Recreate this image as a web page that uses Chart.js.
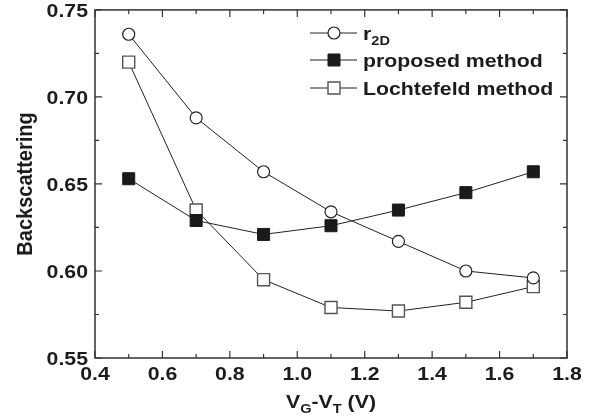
<!DOCTYPE html>
<html>
<head>
<meta charset="utf-8">
<script src="https://cdn.jsdelivr.net/npm/chart.js@4.4.1/dist/chart.umd.min.js"></script>
<style>
  html, body { margin: 0; padding: 0; background: #fff; }
  #wrap { width: 600px; height: 419px; position: relative; }
</style>
</head>
<body>
<div id="wrap"><canvas id="chart" width="600" height="419"></canvas></div>
<script>
// gate voltage overdrive VG-VT (V)
const xValues = [0.5, 0.7, 0.9, 1.1, 1.3, 1.5, 1.7];
// backscattering coefficients
const r2D = [0.736, 0.688, 0.657, 0.634, 0.617, 0.600, 0.596];
const proposed = [0.653, 0.629, 0.621, 0.626, 0.635, 0.645, 0.657];
const lochtefeld = [0.720, 0.635, 0.595, 0.579, 0.577, 0.582, 0.591];

const xTicks = [0.4, 0.6, 0.8, 1.0, 1.2, 1.4, 1.6, 1.8];
const yTicks = [0.55, 0.60, 0.65, 0.70, 0.75];

const FONT = "'Liberation Sans', Arial, Helvetica, sans-serif";
const INK = '#1c1c1c';
const STRETCH = 1.12; // the original lettering is a bit wider than Arial

function toPoints(ys) {
    return xValues.map((x, i) => ({ x: x, y: ys[i] }));
}

// text runs: [text, size, baseline shift], drawn stretched horizontally
function runWidth(ctx, parts) {
    let w = 0;
    parts.forEach(p => { ctx.font = 'bold ' + p[1] + 'px ' + FONT; w += ctx.measureText(p[0]).width; });
    return w * STRETCH;
}
function drawRuns(ctx, parts, x, y, align) {
    const w = runWidth(ctx, parts);
    let sx = x;
    if (align === 'center') sx = x - w / 2;
    if (align === 'right') sx = x - w;
    ctx.save();
    ctx.translate(sx, y);
    ctx.scale(STRETCH, 1);
    ctx.textAlign = 'left';
    ctx.textBaseline = 'alphabetic';
    let cx = 0;
    parts.forEach(p => {
        ctx.font = 'bold ' + p[1] + 'px ' + FONT;
        ctx.fillText(p[0], cx, p[2]);
        cx += ctx.measureText(p[0]).width;
    });
    ctx.restore();
}

// cadre, graduations vers l'intérieur sur les 4 côtés, textes
const framePlugin = {
    id: 'frame',
    afterDraw(chart) {
        const ctx = chart.ctx;
        const a = chart.chartArea;
        const xs = chart.scales.x, ys = chart.scales.y;
        ctx.save();
        ctx.strokeStyle = '#333';
        ctx.lineWidth = 1.5;
        ctx.strokeRect(a.left, a.top, a.right - a.left, a.bottom - a.top);

        ctx.lineWidth = 1.2;
        ctx.beginPath();
        for (let i = 0; i < xTicks.length; i++) {
            const px = xs.getPixelForValue(xTicks[i]);
            ctx.moveTo(px, a.bottom); ctx.lineTo(px, a.bottom - 7);
            ctx.moveTo(px, a.top); ctx.lineTo(px, a.top + 7);
            if (i < xTicks.length - 1) {
                const mx = xs.getPixelForValue((xTicks[i] + xTicks[i + 1]) / 2);
                ctx.moveTo(mx, a.bottom); ctx.lineTo(mx, a.bottom - 4);
                ctx.moveTo(mx, a.top); ctx.lineTo(mx, a.top + 4);
            }
        }
        for (let i = 0; i < yTicks.length; i++) {
            const py = ys.getPixelForValue(yTicks[i]);
            ctx.moveTo(a.left, py); ctx.lineTo(a.left + 7, py);
            ctx.moveTo(a.right, py); ctx.lineTo(a.right - 7, py);
            if (i < yTicks.length - 1) {
                const my = ys.getPixelForValue((yTicks[i] + yTicks[i + 1]) / 2);
                ctx.moveTo(a.left, my); ctx.lineTo(a.left + 4, my);
                ctx.moveTo(a.right, my); ctx.lineTo(a.right - 4, my);
            }
        }
        ctx.stroke();

        ctx.fillStyle = INK;
        // étiquettes des graduations
        xTicks.forEach(v => {
            drawRuns(ctx, [[v.toFixed(1), 19, 0]], xs.getPixelForValue(v), a.bottom + 22, 'center');
        });
        yTicks.forEach(v => {
            drawRuns(ctx, [[v.toFixed(2), 19, 0]], a.left - 7, ys.getPixelForValue(v) + 7, 'right');
        });

        // titre axe Y
        ctx.save();
        ctx.font = 'bold 20px ' + FONT;
        ctx.translate(32, (a.top + a.bottom) / 2);
        ctx.rotate(-Math.PI / 2);
        ctx.scale(1, STRETCH);
        ctx.textAlign = 'center';
        ctx.textBaseline = 'alphabetic';
        ctx.fillText('Backscattering', 0, 0);
        ctx.restore();

        // V_G - V_T (V) avec indices
        drawRuns(ctx, [['V', 19, 0], ['G', 13, 5], ['-V', 19, 0], ['T', 13, 5], [' (V)', 19, 0]],
            (a.left + a.right) / 2, 408, 'center');

        // légende
        const rows = [
            { ds: 0, y: 33, text: [['r', 19, 0], ['2D', 13, 5]] },
            { ds: 1, y: 60, text: [['proposed method', 19, 0]] },
            { ds: 2, y: 88, text: [['Lochtefeld method', 19, 0]] }
        ];
        rows.forEach(r => {
            const d = chart.data.datasets[r.ds];
            ctx.strokeStyle = '#222';
            ctx.lineWidth = 1;
            ctx.beginPath();
            ctx.moveTo(310, r.y); ctx.lineTo(357, r.y);
            ctx.stroke();
            ctx.fillStyle = d.pointBackgroundColor;
            ctx.strokeStyle = d.pointBorderColor;
            ctx.lineWidth = d.pointBorderWidth;
            ctx.beginPath();
            if (d.pointStyle === 'circle') {
                ctx.arc(334, r.y, d.pointRadius, 0, Math.PI * 2);
            } else {
                const s = d.pointRadius * Math.SQRT1_2;
                ctx.rect(334 - s, r.y - s, 2 * s, 2 * s);
            }
            ctx.fill();
            ctx.stroke();
            ctx.fillStyle = INK;
            drawRuns(ctx, r.text, 363, r.y + 7, 'left');
        });
        ctx.restore();
    }
};

const ctx = document.getElementById('chart').getContext('2d');
new Chart(ctx, {
    type: 'scatter',
    data: {
        datasets: [
            {
                label: 'r2D',
                data: toPoints(r2D),
                showLine: true,
                borderColor: '#222',
                borderWidth: 1,
                pointStyle: 'circle',
                pointRadius: 6,
                pointBackgroundColor: '#ffffff',
                pointBorderColor: '#222',
                pointBorderWidth: 1.2
            },
            {
                label: 'proposed method',
                data: toPoints(proposed),
                showLine: true,
                borderColor: '#222',
                borderWidth: 1,
                pointStyle: 'rect',
                pointRadius: 8.5,
                pointBackgroundColor: '#1a1a1a',
                pointBorderColor: '#1a1a1a',
                pointBorderWidth: 1
            },
            {
                label: 'Lochtefeld method',
                data: toPoints(lochtefeld),
                showLine: true,
                borderColor: '#222',
                borderWidth: 1,
                pointStyle: 'rect',
                pointRadius: 8.5,
                pointBackgroundColor: '#ffffff',
                pointBorderColor: '#555',
                pointBorderWidth: 1.4
            }
        ]
    },
    options: {
        responsive: false,
        animation: false,
        layout: { padding: { top: 9, right: 33, left: 0, bottom: 0 } },
        plugins: {
            legend: { display: false },
            tooltip: { enabled: false }
        },
        scales: {
            x: {
                type: 'linear',
                min: 0.4,
                max: 1.8,
                afterBuildTicks: s => { s.ticks = xTicks.map(v => ({ value: v })); },
                afterFit: s => { s.height = 61; s.paddingLeft = 0; s.paddingRight = 0; },
                grid: { display: false, drawTicks: false },
                border: { display: false },
                ticks: { display: false }
            },
            y: {
                type: 'linear',
                min: 0.55,
                max: 0.75,
                afterBuildTicks: s => { s.ticks = yTicks.map(v => ({ value: v })); },
                afterFit: s => { s.width = 95; s.paddingTop = 0; s.paddingBottom = 0; },
                grid: { display: false, drawTicks: false },
                border: { display: false },
                ticks: { display: false }
            }
        }
    },
    plugins: [framePlugin]
});
</script>
</body>
</html>
